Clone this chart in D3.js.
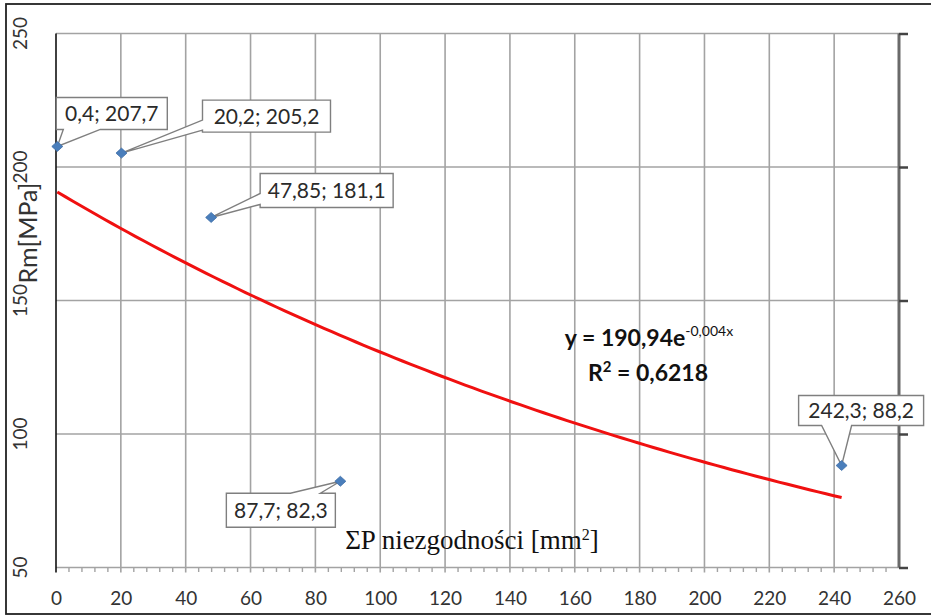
<!DOCTYPE html>
<html>
<head>
<meta charset="utf-8">
<script src="https://cdn.jsdelivr.net/npm/d3@7"></script>
<style>
  html, body { margin: 0; padding: 0; background: #fff; }
  svg { display: block; }
</style>
</head>
<body>
<script>
// ---- data ----
const xValues = [0.4, 20.2, 47.85, 87.7, 242.3];
const yValues = [207.7, 205.2, 181.1, 82.3, 88.2];
const xTickValues = [0, 20, 40, 60, 80, 100, 120, 140, 160, 180, 200, 220, 240, 260];
const yTickValues = [50, 100, 150, 200, 250];
const xTitle = "ΣP niezgodności [mm";
const yTitle = "Rm[MPa]";
const eqMain = "y = 190,94e";
const eqExp = "-0,004x";
const r2Text = " = 0,6218";

// ---- layout (label callouts: box offset from point, tail edge/offsets) ----
const calloutLayout = [
  { dx: -1,   dy: -49, w: 111, h: 32, edge: "bottom", a: 7,  b: 44 },
  { dx: 81,   dy: -53, w: 128, h: 32, edge: "left",   a: 20, b: 30 },
  { dx: 49,   dy: -44, w: 133, h: 34, edge: "left",   a: 20, b: 31 },
  { dx: -114, dy: 12,  w: 109, h: 34, edge: "top",    a: 64, b: 94 },
  { dx: -43,  dy: -70, w: 125, h: 30, edge: "bottom", a: 23, b: 53 }
];

const W = 931, H = 616;
const svg = d3.select("body").append("svg").attr("width", W).attr("height", H);
svg.append("rect").attr("width", W).attr("height", H).attr("fill", "#fff");
// outer frame
svg.append("rect").attr("x", 6).attr("y", 4).attr("width", 940).attr("height", 610)
  .attr("fill", "none").attr("stroke", "#222").attr("stroke-width", 1.8);

const pLeft = 56, pRight = 899, pTop = 33.5, pBottom = 567.5;
const x = d3.scaleLinear().domain([0, 260]).range([pLeft, pRight]);
const y = d3.scaleLinear().domain([50, 250]).range([pBottom, pTop]);

const gridColor = "#a3a3a3";
const g = svg.append("g");

// vertical gridlines (extend slightly below axis as major ticks)
g.append("g").selectAll("line").data(xTickValues.filter(v => v > 0 && v < 260)).join("line")
  .attr("x1", d => x(d)).attr("x2", d => x(d))
  .attr("y1", pTop).attr("y2", pBottom + 5)
  .attr("stroke", gridColor).attr("stroke-width", 1.6);
// horizontal gridlines
g.append("g").selectAll("line").data(yTickValues).join("line")
  .attr("x1", pLeft).attr("x2", pRight)
  .attr("y1", d => y(d)).attr("y2", d => y(d))
  .attr("stroke", gridColor).attr("stroke-width", 1.6);

// minor x ticks
const minor = d3.range(0, 261, 4).filter(v => v % 20 !== 0);
g.append("g").selectAll("line").data(minor).join("line")
  .attr("x1", d => x(d)).attr("x2", d => x(d))
  .attr("y1", pBottom).attr("y2", pBottom + 4.5)
  .attr("stroke", gridColor).attr("stroke-width", 1.4);

// left axis line
g.append("line").attr("x1", pLeft).attr("x2", pLeft).attr("y1", pTop).attr("y2", pBottom + 5)
  .attr("stroke", "#111").attr("stroke-width", 1.6);

// right axis with outward ticks
const rightAxis = d3.axisRight(y).tickValues(yTickValues).tickSize(9).tickFormat("");
const ra = svg.append("g").attr("transform", `translate(${pRight},0)`).call(rightAxis);
ra.select(".domain").attr("stroke", "#6a6a6a").attr("stroke-width", 3).attr("d", `M0,${pTop}V${pBottom}`);
ra.selectAll(".tick line").attr("stroke", "#444").attr("stroke-width", 2.5);

// x tick labels
const xAxis = d3.axisBottom(x).tickValues(xTickValues).tickSize(0).tickPadding(0).tickFormat(d3.format("d"));
const xa = svg.append("g").attr("transform", `translate(0,${pBottom})`).call(xAxis);
xa.select(".domain").remove();
xa.selectAll("text").attr("dy", null).attr("y", 37.5)
  .attr("font-family", "Lato, sans-serif").attr("font-size", 19).attr("fill", "#333");

// y tick labels (rotated)
svg.append("g").selectAll("text").data(yTickValues).join("text")
  .attr("transform", d => `translate(27,${y(d)}) rotate(-90)`)
  .attr("text-anchor", "middle")
  .attr("font-family", "Lato, sans-serif").attr("font-size", 19).attr("fill", "#333")
  .text(d => d);

// y title
svg.append("text")
  .attr("transform", `translate(36.5,${y(150) - 17}) rotate(-90)`)
  .attr("text-anchor", "start")
  .attr("font-family", "Lato, sans-serif").attr("font-size", 25).attr("fill", "#333")
  .text(yTitle);

// x title (serif, inside plot)
const xt = svg.append("text").attr("x", 472).attr("y", 549).attr("text-anchor", "middle")
  .attr("font-family", "'Liberation Serif', 'Times New Roman', serif").attr("font-size", 27).attr("fill", "#111");
xt.append("tspan").text(xTitle);
xt.append("tspan").attr("dy", -9).attr("font-size", 16).text("2");
xt.append("tspan").attr("dy", 9).text("]");

// exponential trendline fitted from data (least squares on ln y)
const nPts = xValues.length;
const lnY = yValues.map(Math.log);
const mx = d3.mean(xValues), my = d3.mean(lnY);
let sxy = 0, sxx = 0;
for (let i = 0; i < nPts; i++) { sxy += (xValues[i] - mx) * (lnY[i] - my); sxx += (xValues[i] - mx) ** 2; }
const bCoef = sxy / sxx;
const aCoef = Math.exp(my - bCoef * mx);
const xs = d3.range(0, 101).map(i => d3.min(xValues) + (d3.max(xValues) - d3.min(xValues)) * i / 100);
svg.append("path")
  .attr("d", d3.line().x(d => x(d)).y(d => y(aCoef * Math.exp(bCoef * d)))(xs))
  .attr("fill", "none").attr("stroke", "#f01010").attr("stroke-width", 3);

// equation
const eq = svg.append("text").attr("x", 649).attr("y", 346).attr("text-anchor", "middle")
  .attr("font-family", "Lato, sans-serif").attr("font-weight", "bold").attr("font-size", 23).attr("fill", "#111");
eq.append("tspan").text(eqMain);
eq.append("tspan").attr("dy", -10).attr("font-size", 14).attr("font-weight", "normal").text(eqExp);
const r2 = svg.append("text").attr("x", 648).attr("y", 381).attr("text-anchor", "middle")
  .attr("font-family", "Lato, sans-serif").attr("font-weight", "bold").attr("font-size", 23).attr("fill", "#111");
r2.append("tspan").text("R");
r2.append("tspan").attr("dy", -9).attr("font-size", 15).text("2");
r2.append("tspan").attr("dy", 9).text(r2Text);

// callouts
const fmt = v => String(v).replace(".", ",");
const points = xValues.map((v, i) => ({ px: x(v), py: y(yValues[i]), label: `${fmt(v)}; ${fmt(yValues[i])}`, L: calloutLayout[i] }));

function calloutPath(p) {
  const L = p.L, bx = p.px + L.dx, by = p.py + L.dy, bw = L.w, bh = L.h;
  const X0 = bx, X1 = bx + bw, Y0 = by, Y1 = by + bh;
  let d = `M${X0},${Y0}`;
  if (L.edge === "top") d += `H${X0 + L.a}L${p.px},${p.py}L${X0 + L.b},${Y0}`;
  d += `H${X1}V${Y1}`;
  if (L.edge === "bottom") d += `H${X0 + L.b}L${p.px},${p.py}L${X0 + L.a},${Y1}`;
  d += `H${X0}`;
  if (L.edge === "left") d += `V${Y0 + L.b}L${p.px},${p.py}L${X0},${Y0 + L.a}`;
  d += "Z";
  return d;
}

const cg = svg.append("g");
cg.selectAll("path").data(points).join("path")
  .attr("d", calloutPath).attr("fill", "#fff").attr("stroke", "#7f7f7f").attr("stroke-width", 1.4)
  .attr("stroke-linejoin", "miter");
cg.selectAll("text").data(points).join("text")
  .attr("x", p => p.px + p.L.dx + p.L.w / 2)
  .attr("y", p => p.py + p.L.dy + p.L.h / 2 + 7.5)
  .attr("text-anchor", "middle")
  .attr("font-family", "Lato, sans-serif").attr("font-size", 21).attr("fill", "#2a2a2a")
  .text(p => p.label);

// markers
svg.append("g").selectAll("path").data(points).join("path")
  .attr("d", p => `M${p.px - 5.5},${p.py}L${p.px},${p.py - 5}L${p.px + 5.5},${p.py}L${p.px},${p.py + 5}Z`)
  .attr("fill", "#4a7ebb").attr("stroke", "#3f6fa8").attr("stroke-width", 0.8);
</script>
</body>
</html>
